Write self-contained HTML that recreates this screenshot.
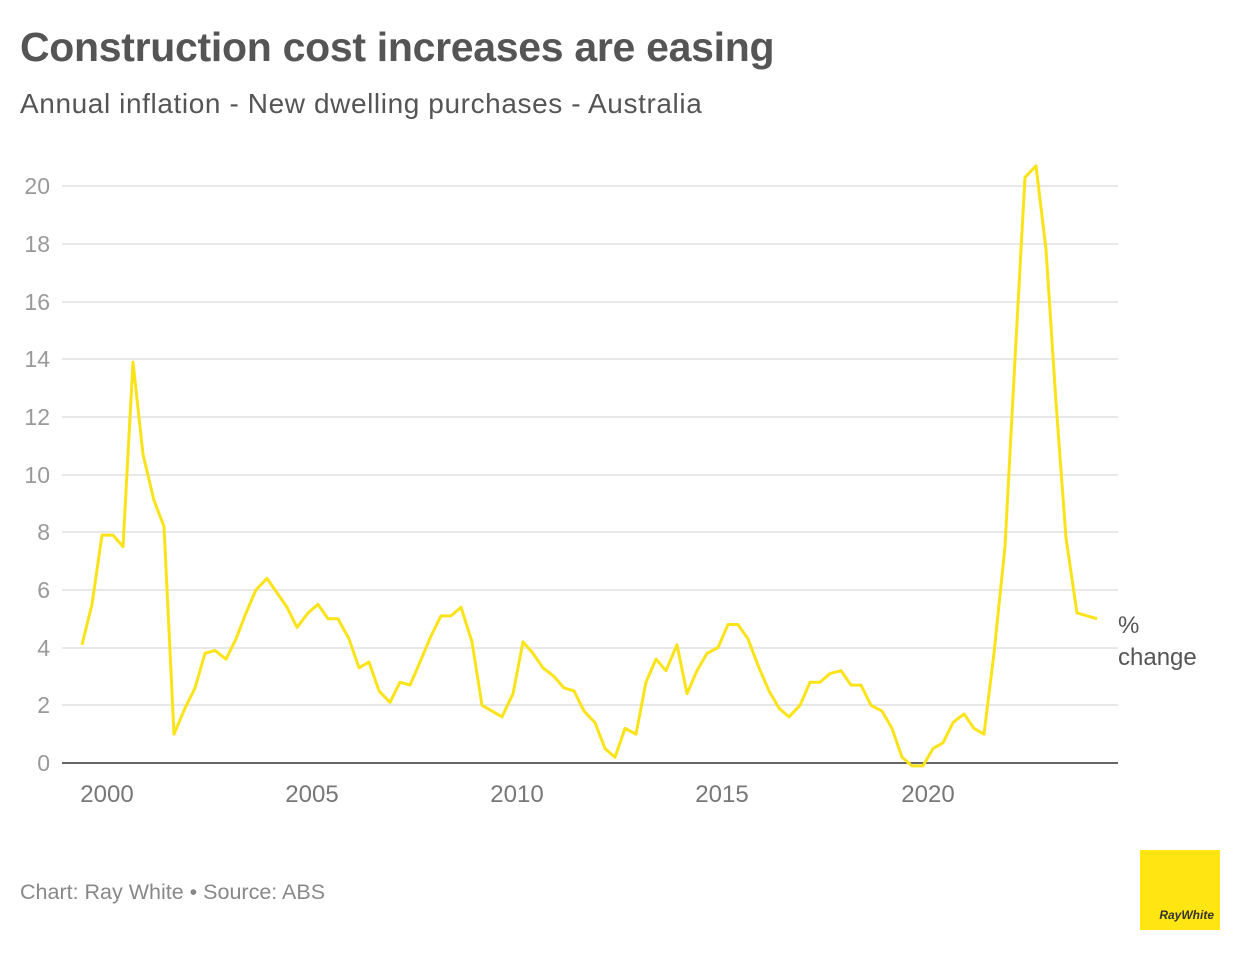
<!DOCTYPE html>
<html><head><meta charset="utf-8"><style>
body{margin:0;width:1240px;height:954px;background:#fff;font-family:"Liberation Sans",sans-serif;overflow:hidden;position:relative}
.t{position:absolute;left:20px;top:24px;font-size:41px;font-weight:bold;color:#555;letter-spacing:-0.3px}
.s{position:absolute;left:20px;top:88px;font-size:28px;color:#555;letter-spacing:0.6px}
.f{position:absolute;left:20px;top:880px;font-size:21.5px;color:#888}
.logo{position:absolute;left:1140px;top:850px;width:80px;height:80px;background:#ffe512}
.logo span{position:absolute;right:6px;bottom:8px;font-size:12px;font-weight:bold;font-style:italic;color:#333}
</style></head><body>
<div class="t">Construction cost increases are easing</div>
<div class="s">Annual inflation - New dwelling purchases - Australia</div>
<svg width="1240" height="954" style="position:absolute;left:0;top:0">
<g stroke="#e0e0e0" stroke-width="1.5">
<line x1="62" x2="1118" y1="186" y2="186"/><line x1="62" x2="1118" y1="244" y2="244"/><line x1="62" x2="1118" y1="302" y2="302"/><line x1="62" x2="1118" y1="359" y2="359"/><line x1="62" x2="1118" y1="417" y2="417"/><line x1="62" x2="1118" y1="475" y2="475"/><line x1="62" x2="1118" y1="532" y2="532"/><line x1="62" x2="1118" y1="590" y2="590"/><line x1="62" x2="1118" y1="648" y2="648"/><line x1="62" x2="1118" y1="705" y2="705"/>
</g>
<line x1="62" x2="1118" y1="763" y2="763" stroke="#333" stroke-width="1.5"/>
<g fill="#999" font-size="23" font-family="Liberation Sans,sans-serif" text-anchor="end">
<text x="50" y="194">20</text><text x="50" y="252">18</text><text x="50" y="310">16</text><text x="50" y="367">14</text><text x="50" y="425">12</text><text x="50" y="483">10</text><text x="50" y="540">8</text><text x="50" y="598">6</text><text x="50" y="656">4</text><text x="50" y="713">2</text><text x="50" y="771">0</text>
</g>
<g fill="#777" font-size="24" font-family="Liberation Sans,sans-serif" text-anchor="middle">
<text x="107" y="802">2000</text><text x="312" y="802">2005</text><text x="517" y="802">2010</text><text x="722" y="802">2015</text><text x="928" y="802">2020</text>
</g>
<text x="1118" y="633" fill="#555" font-size="24" font-family="Liberation Sans,sans-serif">%</text>
<text x="1118" y="665" fill="#555" font-size="24" font-family="Liberation Sans,sans-serif">change</text>
<g transform="translate(0,763) scale(1,-28.85)">
<polyline fill="none" stroke="#fbe31a" stroke-width="3" vector-effect="non-scaling-stroke" stroke-linejoin="round" points="82,4.1 92,5.5 102,7.9 113,7.9 123,7.5 133,13.9 143,10.7 154,9.1 164,8.2 174,1.0 185,1.9 195,2.6 205,3.8 215,3.9 226,3.6 236,4.3 246,5.2 256,6.0 267,6.4 277,5.9 287,5.4 297,4.7 308,5.2 318,5.5 328,5.0 338,5.0 349,4.3 359,3.3 369,3.5 379,2.5 390,2.1 400,2.8 410,2.7 420,3.5 431,4.4 441,5.1 451,5.1 461,5.4 472,4.2 482,2.0 492,1.8 502,1.6 513,2.4 523,4.2 533,3.8 543,3.3 554,3.0 564,2.6 574,2.5 584,1.8 595,1.4 605,0.5 615,0.2 625,1.2 636,1.0 646,2.8 656,3.6 666,3.2 677,4.1 687,2.4 697,3.2 707,3.8 718,4.0 728,4.8 738,4.8 748,4.3 759,3.3 769,2.5 779,1.9 789,1.6 800,2.0 810,2.8 820,2.8 830,3.1 841,3.2 851,2.7 861,2.7 871,2.0 882,1.8 892,1.2 902,0.2 912,-0.1 923,-0.1 933,0.5 943,0.7 953,1.4 964,1.7 974,1.2 984,1.0 994,3.8 1005,7.5 1015,14 1025,20.3 1036,20.7 1046,17.8 1056,12.5 1066,7.8 1077,5.2 1087,5.1 1097,5.0"/>
</g>
</svg>
<div class="f">Chart: Ray White • Source: ABS</div>
<div class="logo"><span>RayWhite</span></div>
</body></html>
